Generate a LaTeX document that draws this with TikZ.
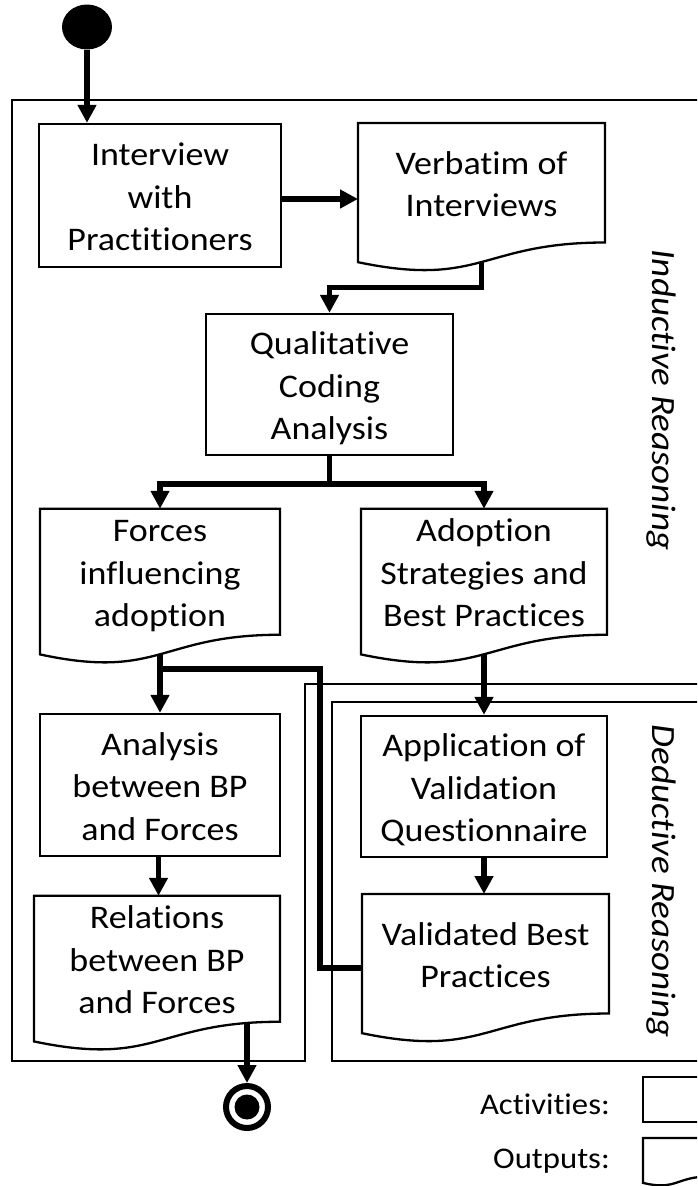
\documentclass[tikz,border=0pt]{standalone}
\usepackage{fontspec}
\setmainfont{Carlito}[FakeStretch=1.09, Ligatures=NoCommon]
\usetikzlibrary{arrows.meta,calc,shapes.geometric}

% text fonts
\newcommand{\boxfont}{\fontsize{33}{42.5}\selectfont}
\newcommand{\lanefont}{\fontsize{34}{40}\selectfont\itshape}
\newcommand{\legendfont}{\fontsize{30}{36}\selectfont}
% struts that keep multi-line labels centred on their cap height
\newcommand{\topstrut}{\rule{0pt}{33pt}}
\newcommand{\botstrut}{\rule[-8pt]{0pt}{8pt}}
\newcommand{\lbl}[1]{\topstrut#1\botstrut}

% outline of an output sheet with a wavy lower edge
% #1 node name, #2 full height of the sheet
\newcommand{\docframe}[2]{%
  \draw[boxline] (#1.south east) -- (#1.north east) -- (#1.north west)
    -- ($(#1.south west)+(0,0.132*#2)$)
    .. controls ($(#1.south)+(0,0.3055*#2)$) and (#1.south) .. (#1.south east)
    -- cycle;}

\tikzset{
  boxline/.style={draw=black, line width=2.3pt, line join=miter},
  stepbox/.style={boxline, rectangle, inner sep=0pt, align=center, font=\boxfont},
  sheet/.style={rectangle, inner sep=0pt, outer sep=0pt, align=center, font=\boxfont},
  wire/.style={line width=5.7pt, line join=miter},
  conn/.style={wire, -{Triangle[width=18pt,length=18pt]}},
  frame/.style={draw=black, line width=2pt},
  lane/.style={font=\lanefont, rotate=-90, inner sep=0pt},
}

\begin{document}
\begin{tikzpicture}[x=1pt, y=-1pt]
\useasboundingbox (0,0) rectangle (697,1186);
\fill[white] (0,0) rectangle (697,1186);
\clip (0,0) rectangle (697,1186);

% swimlane frames
\draw[frame] (12,100) -- (712,100) -- (712,683.5) -- (304.5,683.5)
  -- (304.5,1060.5) -- (12,1060.5) -- cycle;
\draw[frame] (332,701.5) rectangle (712,1060.5);
\node[lane] (induct) at (661,400) {Inductive Reasoning};
\node[lane] (deduct) at (661,881) {Deductive Reasoning};

% start and end
\node[ellipse, fill=black, minimum width=50pt, minimum height=45pt, inner sep=0pt] (start) at (87,27) {};
\node[circle, draw=black, line width=6pt, minimum size=42pt, inner sep=0pt] (finish) at (247,1107) {};
\fill[black] (finish.center) circle (12.5pt);

% activities
\node[stepbox, minimum width=242pt, minimum height=143pt] (interview) at (160,195.5)
  {\lbl{Interview\\with\\Practitioners}};
\node[stepbox, minimum width=247pt, minimum height=141pt] (qual) at (329.5,384.5)
  {\lbl{Qualitative\\Coding\\Analysis}};
\node[stepbox, minimum width=240pt, minimum height=142pt] (analysis) at (160,785)
  {\lbl{Analysis\\between BP\\and Forces}};
\node[stepbox, minimum width=246pt, minimum height=141pt] (apply) at (484,786.5)
  {\lbl{Application of\\Validation\\Questionnaire}};

% outputs
\node[sheet, minimum width=247pt, minimum height=119.5pt] (verbatim) at (481.5,182.75)
  {\lbl{Verbatim of\\Interviews}};
\docframe{verbatim}{149}
\node[sheet, minimum width=240pt, minimum height=119.5pt] (forces) at (160,571.75)
  {\lbl{Forces\\influencing\\adoption}};
\docframe{forces}{149}
\node[sheet, minimum width=246pt, minimum height=119.5pt] (adopt) at (484,571.75)
  {\lbl{Adoption\\Strategies and\\Best Practices}};
\docframe{adopt}{149}
\node[sheet, minimum width=246pt, minimum height=119.5pt] (relations) at (157,958.75)
  {\lbl{Relations\\between BP\\and Forces}};
\docframe{relations}{149}
\node[sheet, minimum width=247pt, minimum height=119.5pt] (valid) at (485.5,953.75)
  {\lbl{Validated Best\\Practices}};
\docframe{valid}{149}

% connectors
\draw[conn] (start) -- (start |- interview.north);
\draw[conn] ($(interview.east)+(0,3.5)$) coordinate (ia) -- (ia -| verbatim.west);
\draw[conn] ($(verbatim.south)+(0,19.5)$) -- ++(0,25.5) -| (qual.north);
\coordinate (split) at ($(qual.south)+(0,28)$);
\draw[wire] (qual.south) -- (split);
\draw[conn] (split) -| (forces.north);
\draw[conn] (split) -| (adopt.north);
\coordinate (fork) at ($(forces.south)+(0,34.5)$);
\draw[conn] ($(forces.south)+(0,19.5)$) -- (forces.south |- analysis.north);
\draw[wire] (fork) -| ($(valid.west)+(-42,14)$) -- ($(valid.west)+(0,14)$);
\draw[conn] ($(adopt.south)+(0,19.5)$) -- (adopt.south |- apply.north);
\draw[conn] ([xshift=-1.5pt]analysis.south) -- ([xshift=1.5pt]relations.north);
\draw[conn] (apply.south) -- (apply.south |- valid.north);
\draw[conn] (finish |- relations.south) -- (finish.north);

% legend
\node[anchor=base east, font=\legendfont, inner sep=0pt] (acttext) at (610,1114) {Activities:};
\node[boxline, rectangle, minimum width=66pt, minimum height=45pt, inner sep=0pt] (legact) at (676,1099.5) {};
\node[anchor=base east, font=\legendfont, inner sep=0pt] (outtext) at (610,1168) {Outputs:};
\node[sheet, minimum width=66pt, minimum height=38.5pt] (legout) at (676,1157.25) {};
\docframe{legout}{48}
\end{tikzpicture}
\end{document}
